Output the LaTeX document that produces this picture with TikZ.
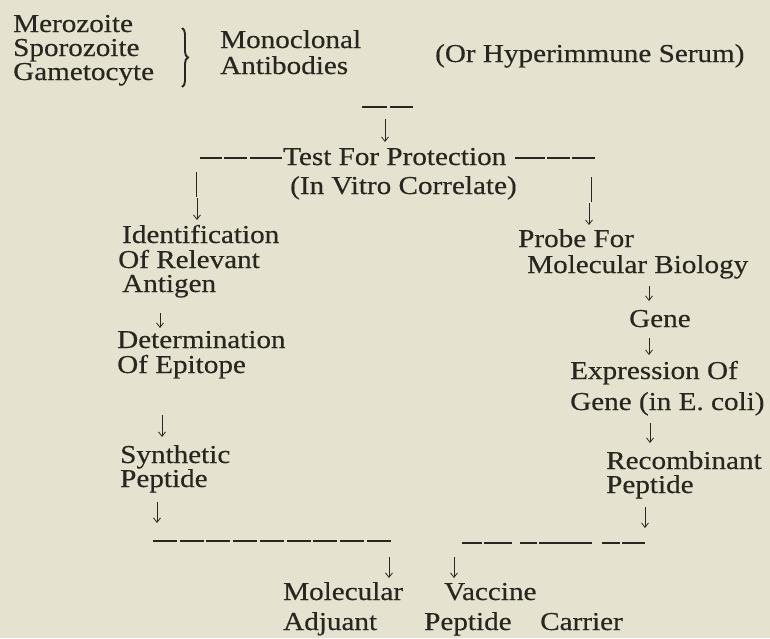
\documentclass[tikz,border=0pt]{standalone}
\usepackage{fontspec}
\setmainfont[FakeStretch=1.13,FakeBold=0.35]{Liberation Serif}
\usetikzlibrary{arrows.meta,decorations.pathreplacing}
\definecolor{paper}{RGB}{229,227,207}
\definecolor{ink}{RGB}{40,38,32}
\begin{document}
\begin{tikzpicture}[x=1pt,y=-1pt,
  txt/.style={anchor=base west,inner sep=0pt,text=ink,font=\fontsize{25.8}{24}\selectfont},
  arr/.style={draw=ink,line width=0.8pt,-{Straight Barb[length=4.5pt,width=7pt]}},
  bar/.style={draw=ink,line width=0.9pt},
  dsh/.style={draw=ink,line width=1.6pt}]
\fill[paper] (0,0) rectangle (770,638);
\useasboundingbox (0,0) rectangle (770,638);
% top block
\node[txt] (mero)  at (13,32) {Merozoite};
\node[txt] (sporo) at (13,56) {Sporozoite};
\node[txt] (game)  at (13,80) {Gametocyte};
\node[txt] (mono)  at (220,48) {Monoclonal};
\node[txt] (anti)  at (220,74) {Antibodies};
\node[txt] (hyper) at (435,62) {(Or Hyperimmune Serum)};
\draw[draw=ink,line width=1.9pt,decorate,decoration={brace,amplitude=6pt}] (182,28) -- (182,87);
% test
\node[txt] (test)    at (283,165) {Test For Protection};
\node[txt] (invitro) at (290,194) {(In Vitro Correlate)};
% left column
\node[txt] (ident) at (122,243) {Identification};
\node[txt] (ofrel) at (118,268) {Of Relevant};
\node[txt] (antig) at (122,292) {Antigen};
\node[txt] (deter) at (117,348) {Determination};
\node[txt] (ofepi) at (117,373) {Of Epitope};
\node[txt] (synth) at (120,463) {Synthetic};
\node[txt] (pepa)  at (120,487) {Peptide};
% right column
\node[txt] (probe)  at (518,247) {Probe For};
\node[txt] (molbio) at (527,273) {Molecular Biology};
\node[txt] (gene)   at (629,327) {Gene};
\node[txt] (expr)   at (570,379) {Expression Of};
\node[txt] (genein) at (570,410) {Gene (in E. coli)};
\node[txt] (recomb) at (606,469) {Recombinant};
\node[txt] (pepb)   at (606,493) {Peptide};
% bottom
\node[txt] (molec) at (283,600) {Molecular};
\node[txt] (vacc)  at (444,600) {Vaccine};
\node[txt] (adj)   at (283,630) {Adjuant};
\node[txt] (pepc)  at (424,630) {Peptide};
\node[txt] (carr)  at (540,630) {Carrier};
% coordinates for connectors
\coordinate (t1) at (385,119); \coordinate (t2) at (385,142);
\coordinate (l0) at (196,172); \coordinate (l1) at (196,197);
\coordinate (l2) at (197,198); \coordinate (l3) at (197,220);
\coordinate (r0) at (591,177); \coordinate (r1) at (591,202);
\coordinate (r2) at (589,203); \coordinate (r3) at (589,225);
\coordinate (a1) at (160,313); \coordinate (a2) at (160,328);
\coordinate (b1) at (162,415); \coordinate (b2) at (162,437);
\coordinate (c1) at (157,502); \coordinate (c2) at (157,523);
\coordinate (d1) at (649,286); \coordinate (d2) at (649,301);
\coordinate (e1) at (649,338); \coordinate (e2) at (649,355);
\coordinate (f1) at (650,423); \coordinate (f2) at (650,443);
\coordinate (g1) at (645,507); \coordinate (g2) at (645,528);
\coordinate (h1) at (389,557); \coordinate (h2) at (389,578);
\coordinate (k1) at (454,557); \coordinate (k2) at (454,578);
% dashes
\draw[dsh,line width=1.4pt] (362,107) -- (387,107) (390,107) -- (413,107);
\draw[dsh,line width=1.4pt] (200,158) -- (222,158) (224,158) -- (247,158) (250,158) -- (282,158);
\draw[dsh,line width=1.4pt] (515,158) -- (545,158) (547,158) -- (570,158) (572,158) -- (595,158);
\draw[dsh,dash pattern=on 24pt off 2.7pt] (153,541) -- (392,541);
\draw[dsh] (462,543) -- (482,543) (484,543) -- (512,543) (520,543) -- (537,543) (539,543) -- (592,543) (602,543) -- (620,543) (622,543) -- (645,543);
% arrows
\draw[arr] (t1) -- (t2);
\draw[bar] (l0) -- (l1);
\draw[arr] (l2) -- (l3);
\draw[bar] (r0) -- (r1);
\draw[arr] (r2) -- (r3);
\draw[arr] (a1) -- (a2);
\draw[arr] (b1) -- (b2);
\draw[arr] (c1) -- (c2);
\draw[arr] (d1) -- (d2);
\draw[arr] (e1) -- (e2);
\draw[arr] (f1) -- (f2);
\draw[arr] (g1) -- (g2);
\draw[arr] (h1) -- (h2);
\draw[arr] (k1) -- (k2);
\end{tikzpicture}
\end{document}
